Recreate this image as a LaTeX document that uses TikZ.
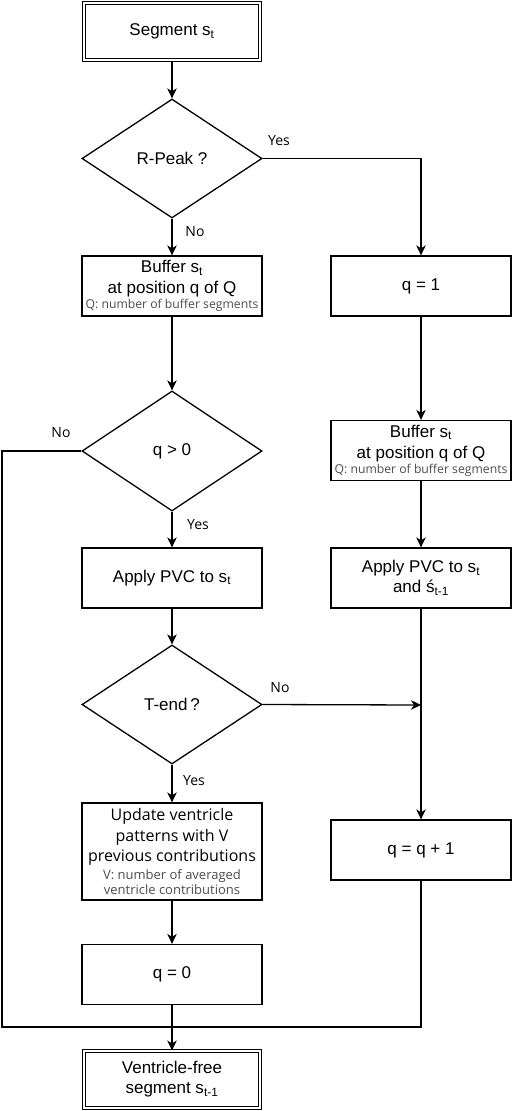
\documentclass[tikz,border=0pt]{standalone}
\usepackage{fontspec}
\setmainfont{Liberation Sans}
\newfontfamily\lblfont{Open Sans}
\usetikzlibrary{shapes.geometric,arrows.meta}
\definecolor{notegray}{rgb}{0.3,0.3,0.3}
\newcommand{\smallnote}{\lblfont\fontsize{13bp}{15bp}\selectfont\color{notegray}}
\newcommand{\qnote}{\lblfont\fontsize{12.2bp}{14bp}\selectfont\color{notegray}}
\tikzset{
  every picture/.style={line width=1.3bp},
  base/.style={draw, inner sep=0pt, align=center, font=\fontsize{17bp}{20bp}\selectfont},
  proc/.style={base, rectangle, minimum width=180bp, minimum height=60bp},
  term/.style={base, rectangle, double, double distance=2bp, line width=1bp, minimum width=176bp, minimum height=57bp},
  decision/.style={base, diamond, aspect=1.5, minimum width=180bp, minimum height=119bp},
  arr/.style={-{Stealth[length=10bp,width=9.5bp,inset=3bp]}},
  lbl/.style={inner sep=0pt, font=\lblfont\fontsize{14bp}{16bp}\selectfont},
}
\begin{document}
\begin{tikzpicture}[x=1bp,y=-1bp]
\useasboundingbox (0,0) rectangle (512,1111);
% left column
\node[term] (start) at (172,31.5) {Segment s\textsubscript{t}};
\node[decision] (d1) at (172,158.5) {R-Peak ?};
\node[proc] (b1) at (172,286) {Buffer s\textsubscript{t}\\[1bp] at position q of Q\\[-5bp]{\qnote Q: number of buffer segments}};
\node[decision, minimum height=120bp] (d2) at (172,451) {q \textgreater{} 0};
\node[proc] (p1) at (172,578) {Apply PVC to s\textsubscript{t}};
\node[decision] (d3) at (172,704.5) {T-end\,?};
\node[proc, minimum height=97bp, font=\lblfont\fontsize{16bp}{20.5bp}\selectfont] (u) at (172,851.5)
  {Update ventricle\\patterns with V\\previous contributions\\[-2.5bp]{\smallnote V: number of averaged}\\[-5.5bp]{\smallnote ventricle contributions}};
\node[proc] (z) at (172,974.5) {q = 0};
\node[term] (e) at (172,1079.5) {Ventricle-free\\segment s\textsubscript{t-1}};
% right column
\node[proc] (r1) at (421,286) {q = 1};
\node[proc] (r2) at (421,450.5) {Buffer s\textsubscript{t}\\[1bp] at position q of Q\\[-5bp]{\qnote Q: number of buffer segments}};
\node[proc] (p2) at (421,578) {Apply PVC to s\textsubscript{t}\\and ś\textsubscript{t-1}};
\node[proc] (r3) at (421,850) {q = q + 1};
% helper coordinates
\coordinate (J) at (421,705);
\coordinate (L1) at (2,451);
\coordinate (L2) at (2,1027);
\coordinate (R2) at (421,1027);
% connectors
\draw[arr] (start) -- (d1);
\draw[arr] (d1.east) -| (r1.north);
\draw[arr] (d1) -- (b1);
\draw[arr] (b1) -- (d2);
\draw (d2.west) -- (L1) -- (L2) -- (R2) -- (r3.south);
\draw[arr] (d2) -- (p1);
\draw[arr] (p1) -- (d3);
\draw[arr] (d3.east) -- (J);
\draw[arr] (d3) -- (u);
\draw[arr] (u) -- (z);
\draw[arr] (z) -- (e);
\draw[arr] (r1) -- (r2);
\draw[arr] (r2) -- (p2);
\draw[arr] (p2) -- (r3);
% labels
\node[lbl] (y1) at (279,141) {Yes};
\node[lbl] (n1) at (195,232) {No};
\node[lbl] (n2) at (61,433) {No};
\node[lbl] (y2) at (198,525) {Yes};
\node[lbl] (n3) at (280,688) {No};
\node[lbl] (y3) at (194,781) {Yes};
\end{tikzpicture}
\end{document}
